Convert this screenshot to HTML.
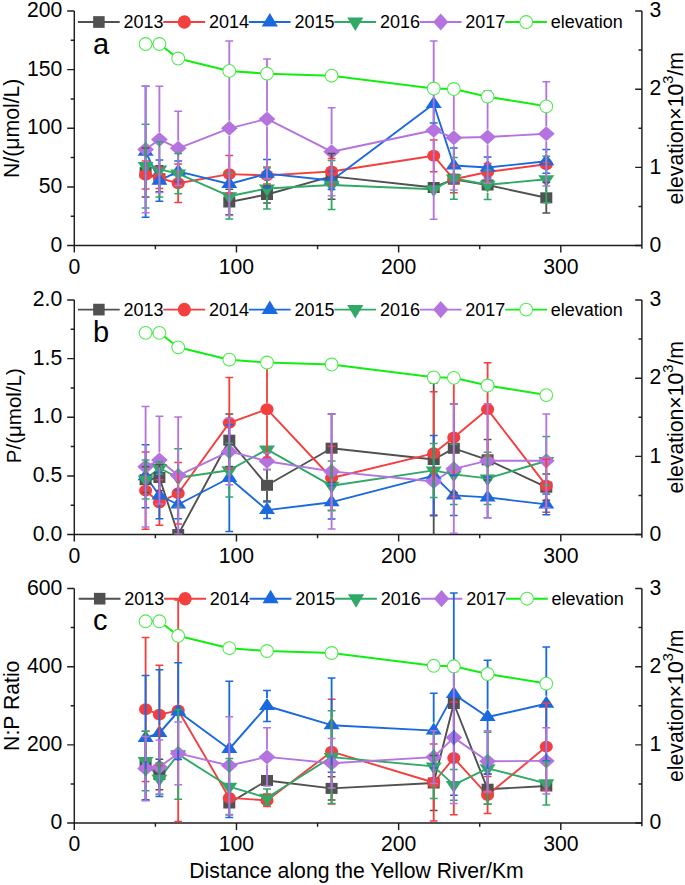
<!DOCTYPE html>
<html><head><meta charset="utf-8"><title>chart</title><style>html,body{margin:0;padding:0;background:#fff;}svg{display:block;}</style></head><body>
<svg width="685" height="885" viewBox="0 0 685 885" font-family='"Liberation Sans", sans-serif' fill="#000">
<rect width="685" height="885" fill="#fff"/>
<clipPath id="c0"><rect x="74.3" y="7" width="567.6" height="238.55"/></clipPath>
<line x1="77.9" y1="22" x2="119.7" y2="22" stroke="#515151" stroke-width="1.9"/>
<rect x="93.15" y="16.15" width="11.5" height="11.7" fill="#515151"/>
<text x="123.5" y="28" font-size="18" text-anchor="start">2013</text>
<line x1="163.36" y1="22" x2="205.16" y2="22" stroke="#f43f3f" stroke-width="1.9"/>
<ellipse cx="184.36" cy="22" rx="6.55" ry="6.8" fill="#f43f3f"/>
<text x="208.96" y="28" font-size="18" text-anchor="start">2014</text>
<line x1="248.82" y1="22" x2="290.62" y2="22" stroke="#1b69de" stroke-width="1.9"/>
<path d="M269.82 13L277.92 26.5L261.72 26.5Z" fill="#1b69de"/>
<text x="294.42" y="28" font-size="18" text-anchor="start">2015</text>
<line x1="334.28" y1="22" x2="376.08" y2="22" stroke="#30a967" stroke-width="1.9"/>
<path d="M355.28 31L363.38 17.5L347.18 17.5Z" fill="#30a967"/>
<text x="379.88" y="28" font-size="18" text-anchor="start">2016</text>
<line x1="419.74" y1="22" x2="461.54" y2="22" stroke="#b473de" stroke-width="1.9"/>
<path d="M440.74 13.4L448.34 22L440.74 30.6L433.14 22Z" fill="#b473de"/>
<text x="465.34" y="28" font-size="18" text-anchor="start">2017</text>
<line x1="505.2" y1="22" x2="547" y2="22" stroke="#12ee12" stroke-width="1.9"/>
<circle cx="526.2" cy="22" r="6.4" fill="#fff" stroke="#4fea4f" stroke-width="1.05"/>
<text x="550.8" y="28" font-size="18" text-anchor="start">elevation</text>
<path d="M74.3 11V245.55H641.9M641.9 11V248.75" fill="none" stroke="#1e1e1e" stroke-width="1.45"/>
<path d="M67.2 245.55H74.3M67.2 186.91H74.3M67.2 128.28H74.3M67.2 69.64H74.3M67.2 11H74.3M70.7 216.23H74.3M70.7 157.59H74.3M70.7 98.96H74.3M70.7 40.32H74.3M635.2 245.55H641.9M635.2 167.37H641.9M635.2 89.18H641.9M635.2 11H641.9M638.5 206.46H641.9M638.5 128.28H641.9M638.5 50.09H641.9M74.3 245.55V252.55M236.47 245.55V252.55M398.64 245.55V252.55M560.81 245.55V252.55M155.39 245.55V249.15M317.56 245.55V249.15M479.73 245.55V249.15" fill="none" stroke="#1e1e1e" stroke-width="1.45"/>
<text x="62.3" y="251.75" font-size="21.2" text-anchor="end">0</text>
<text x="62.3" y="193.11" font-size="21.2" text-anchor="end">50</text>
<text x="62.3" y="134.47" font-size="21.2" text-anchor="end">100</text>
<text x="62.3" y="75.84" font-size="21.2" text-anchor="end">150</text>
<text x="62.3" y="17.2" font-size="21.2" text-anchor="end">200</text>
<text x="649.6" y="251.75" font-size="21.2" text-anchor="start">0</text>
<text x="649.6" y="173.57" font-size="21.2" text-anchor="start">1</text>
<text x="649.6" y="95.38" font-size="21.2" text-anchor="start">2</text>
<text x="649.6" y="17.2" font-size="21.2" text-anchor="start">3</text>
<text x="74.3" y="273.75" font-size="21.2" text-anchor="middle">0</text>
<text x="236.47" y="273.75" font-size="21.2" text-anchor="middle">100</text>
<text x="398.64" y="273.75" font-size="21.2" text-anchor="middle">200</text>
<text x="560.81" y="273.75" font-size="21.2" text-anchor="middle">300</text>
<text transform="translate(18.8 128.28) rotate(-90)" font-size="21.2" text-anchor="middle">N/(μmol/L)</text>
<text transform="translate(682.9 128.28) rotate(-90)" font-size="21.2" text-anchor="middle">elevation×10<tspan font-size="14.5" dy="-10">3</tspan><tspan dy="10">/m</tspan></text>
<text x="93" y="53.6" font-size="29" text-anchor="start">a</text>
<g clip-path="url(#c0)">
<path d="M145.6 172.6L159.4 178.7" fill="none" stroke="#515151" stroke-width="1.9" stroke-linejoin="round"/>
<path d="M229.3 202L267 194.5L331.6 176.4L433.7 187.5L453.8 179.2L487.6 185L546.3 197.8" fill="none" stroke="#515151" stroke-width="1.9" stroke-linejoin="round"/>
<path d="M145.6 174.9L159.4 178L178.2 183.3L229.3 174.1L267 175.4L331.6 171.5L433.7 155.8L453.8 179.3L487.6 172L546.3 164.2" fill="none" stroke="#f43f3f" stroke-width="1.9" stroke-linejoin="round"/>
<path d="M145.6 151.7L159.4 180.65L178.2 171.4L229.3 184L267 173.65L331.6 180.5L433.7 104L453.8 165.5L487.6 167.5L546.3 161.3" fill="none" stroke="#1b69de" stroke-width="1.9" stroke-linejoin="round"/>
<path d="M145.6 166.1L159.4 169.4L178.2 173.6L229.3 196.2L267 188.5L331.6 185L433.7 189.2L453.8 178.4L487.6 184.8L546.3 179.3" fill="none" stroke="#30a967" stroke-width="1.9" stroke-linejoin="round"/>
<path d="M145.6 149.5L159.4 139.45L178.2 148.35L229.3 128.3L267 118.9L331.6 151.7L433.7 130.2L453.8 137.8L487.6 137L546.3 133.8" fill="none" stroke="#b473de" stroke-width="1.9" stroke-linejoin="round"/>
<rect x="139.6" y="167.1" width="12" height="11" fill="#515151"/>
<rect x="153.4" y="173.2" width="12" height="11" fill="#515151"/>
<rect x="223.3" y="196.5" width="12" height="11" fill="#515151"/>
<rect x="261" y="189" width="12" height="11" fill="#515151"/>
<rect x="325.6" y="170.9" width="12" height="11" fill="#515151"/>
<rect x="427.7" y="182" width="12" height="11" fill="#515151"/>
<rect x="447.8" y="173.7" width="12" height="11" fill="#515151"/>
<rect x="481.6" y="179.5" width="12" height="11" fill="#515151"/>
<rect x="540.3" y="192.3" width="12" height="11" fill="#515151"/>
<ellipse cx="145.6" cy="174.9" rx="6.55" ry="5.95" fill="#f43f3f"/>
<ellipse cx="159.4" cy="178" rx="6.55" ry="5.95" fill="#f43f3f"/>
<ellipse cx="178.2" cy="183.3" rx="6.55" ry="5.95" fill="#f43f3f"/>
<ellipse cx="229.3" cy="174.1" rx="6.55" ry="5.95" fill="#f43f3f"/>
<ellipse cx="267" cy="175.4" rx="6.55" ry="5.95" fill="#f43f3f"/>
<ellipse cx="331.6" cy="171.5" rx="6.55" ry="5.95" fill="#f43f3f"/>
<ellipse cx="433.7" cy="155.8" rx="6.55" ry="5.95" fill="#f43f3f"/>
<ellipse cx="453.8" cy="179.3" rx="6.55" ry="5.95" fill="#f43f3f"/>
<ellipse cx="487.6" cy="172" rx="6.55" ry="5.95" fill="#f43f3f"/>
<ellipse cx="546.3" cy="164.2" rx="6.55" ry="5.95" fill="#f43f3f"/>
<path d="M145.6 143.7L153.6 155.7L137.6 155.7Z" fill="#1b69de"/>
<path d="M159.4 172.65L167.4 184.65L151.4 184.65Z" fill="#1b69de"/>
<path d="M178.2 163.4L186.2 175.4L170.2 175.4Z" fill="#1b69de"/>
<path d="M229.3 176L237.3 188L221.3 188Z" fill="#1b69de"/>
<path d="M267 165.65L275 177.65L259 177.65Z" fill="#1b69de"/>
<path d="M331.6 172.5L339.6 184.5L323.6 184.5Z" fill="#1b69de"/>
<path d="M433.7 96L441.7 108L425.7 108Z" fill="#1b69de"/>
<path d="M453.8 157.5L461.8 169.5L445.8 169.5Z" fill="#1b69de"/>
<path d="M487.6 159.5L495.6 171.5L479.6 171.5Z" fill="#1b69de"/>
<path d="M546.3 153.3L554.3 165.3L538.3 165.3Z" fill="#1b69de"/>
<path d="M145.6 174.1L153.6 162.1L137.6 162.1Z" fill="#30a967"/>
<path d="M159.4 177.4L167.4 165.4L151.4 165.4Z" fill="#30a967"/>
<path d="M178.2 181.6L186.2 169.6L170.2 169.6Z" fill="#30a967"/>
<path d="M229.3 204.2L237.3 192.2L221.3 192.2Z" fill="#30a967"/>
<path d="M267 196.5L275 184.5L259 184.5Z" fill="#30a967"/>
<path d="M331.6 193L339.6 181L323.6 181Z" fill="#30a967"/>
<path d="M433.7 197.2L441.7 185.2L425.7 185.2Z" fill="#30a967"/>
<path d="M453.8 186.4L461.8 174.4L445.8 174.4Z" fill="#30a967"/>
<path d="M487.6 192.8L495.6 180.8L479.6 180.8Z" fill="#30a967"/>
<path d="M546.3 187.3L554.3 175.3L538.3 175.3Z" fill="#30a967"/>
<path d="M145.6 142L154 149.5L145.6 157L137.2 149.5Z" fill="#b473de"/>
<path d="M159.4 131.95L167.8 139.45L159.4 146.95L151 139.45Z" fill="#b473de"/>
<path d="M178.2 140.85L186.6 148.35L178.2 155.85L169.8 148.35Z" fill="#b473de"/>
<path d="M229.3 120.8L237.7 128.3L229.3 135.8L220.9 128.3Z" fill="#b473de"/>
<path d="M267 111.4L275.4 118.9L267 126.4L258.6 118.9Z" fill="#b473de"/>
<path d="M331.6 144.2L340 151.7L331.6 159.2L323.2 151.7Z" fill="#b473de"/>
<path d="M433.7 122.7L442.1 130.2L433.7 137.7L425.3 130.2Z" fill="#b473de"/>
<path d="M453.8 130.3L462.2 137.8L453.8 145.3L445.4 137.8Z" fill="#b473de"/>
<path d="M487.6 129.5L496 137L487.6 144.5L479.2 137Z" fill="#b473de"/>
<path d="M546.3 126.3L554.7 133.8L546.3 141.3L537.9 133.8Z" fill="#b473de"/>
<path d="M145.6 167.1V148.1M145.6 178.1V197.1M159.4 173.2V165.7M159.4 184.2V191.7M229.3 196.5V189.3M229.3 207.5V214.7M267 189V185.9M267 200V203.1M331.6 170.9V153.5M331.6 181.9V199.3M546.3 192.3V182.5M546.3 203.3V213.1" fill="none" stroke="#515151" stroke-width="1.85"/>
<path d="M141.7 148.1H149.5M141.7 197.1H149.5M155.5 165.7H163.3M155.5 191.7H163.3M225.4 189.3H233.2M225.4 214.7H233.2M263.1 185.9H270.9M263.1 203.1H270.9M327.7 153.5H335.5M327.7 199.3H335.5M542.4 182.5H550.2M542.4 213.1H550.2" fill="none" stroke="#515151" stroke-width="1.5"/>
<path d="M145.6 168.95V160.9M145.6 180.85V189M159.4 172.05V167.4M159.4 183.95V188.6M178.2 177.35V164.1M178.2 189.25V202.5M229.3 168.15V155.4M229.3 180.05V192.9M267 169.45V166.9M267 181.35V184M331.6 165.55V158.6M331.6 177.45V184.4M433.7 149.85V139.9M433.7 161.75V171.8M453.8 173.35V165.7M453.8 185.25V192.8M487.6 166.05V163.4M487.6 177.95V180" fill="none" stroke="#f43f3f" stroke-width="1.85"/>
<path d="M141.7 160.9H149.5M141.7 189H149.5M155.5 167.4H163.3M155.5 188.6H163.3M174.3 164.1H182.1M174.3 202.5H182.1M225.4 155.4H233.2M225.4 192.9H233.2M263.1 166.9H270.9M263.1 184H270.9M327.7 158.6H335.5M327.7 184.4H335.5M429.8 139.9H437.6M429.8 171.8H437.6M449.9 165.7H457.7M449.9 192.8H457.7M483.7 163.4H491.5M483.7 180H491.5M542.4 162.4H550.2M542.4 166H550.2" fill="none" stroke="#f43f3f" stroke-width="1.5"/>
<path d="M145.6 143.7V86.2M145.6 155.7V217.2M159.4 172.65V160.1M159.4 184.65V201.2M178.2 163.4V161M178.2 175.4V181.8M267 165.65V159.5M267 177.65V187.8M331.6 172.5V171.5M331.6 184.5V189.5M433.7 96V85.1M433.7 108V122.9M453.8 157.5V148M453.8 169.5V183M487.6 159.5V157.1M487.6 171.5V177.9M546.3 153.3V149.4M546.3 165.3V173.2" fill="none" stroke="#1b69de" stroke-width="1.85"/>
<path d="M141.7 86.2H149.5M141.7 217.2H149.5M155.5 160.1H163.3M155.5 201.2H163.3M174.3 161H182.1M174.3 181.8H182.1M263.1 159.5H270.9M263.1 187.8H270.9M327.7 171.5H335.5M327.7 189.5H335.5M429.8 85.1H437.6M429.8 122.9H437.6M449.9 148H457.7M449.9 183H457.7M483.7 157.1H491.5M483.7 177.9H491.5M542.4 149.4H550.2M542.4 173.2H550.2" fill="none" stroke="#1b69de" stroke-width="1.5"/>
<path d="M145.6 162.1V124.2M145.6 174.1V208M159.4 165.4V141.7M159.4 177.4V197.1M178.2 169.6V153.5M178.2 181.6V193.7M229.3 192.2V173.3M229.3 204.2V219.1M267 184.5V168M267 196.5V208.9M331.6 181V160.5M331.6 193V209.5M453.8 174.4V157.5M453.8 186.4V199.2M487.6 180.8V170.1M487.6 192.8V199.6M546.3 175.3V156.3M546.3 187.3V202.7" fill="none" stroke="#30a967" stroke-width="1.85"/>
<path d="M141.7 124.2H149.5M141.7 208H149.5M155.5 141.7H163.3M155.5 197.1H163.3M174.3 153.5H182.1M174.3 193.7H182.1M225.4 173.3H233.2M225.4 219.1H233.2M263.1 168H270.9M263.1 208.9H270.9M327.7 160.5H335.5M327.7 209.5H335.5M449.9 157.5H457.7M449.9 199.2H457.7M483.7 170.1H491.5M483.7 199.6H491.5M542.4 156.3H550.2M542.4 202.7H550.2" fill="none" stroke="#30a967" stroke-width="1.5"/>
<path d="M145.6 142V86.2M145.6 157V212.7M159.4 131.95V86.3M159.4 146.95V192.6M178.2 140.85V111.2M178.2 155.85V185.5M229.3 120.8V41.1M229.3 135.8V215.5M267 111.4V59M267 126.4V178.8M331.6 144.2V107.7M331.6 159.2V195.7M433.7 122.7V41.1M433.7 137.7V219.3M453.8 130.3V85.5M453.8 145.3V190.1M487.6 129.5V90.8M487.6 144.5V183.2M546.3 126.3V81.7M546.3 141.3V185.9" fill="none" stroke="#b473de" stroke-width="1.85"/>
<path d="M141.7 86.2H149.5M141.7 212.7H149.5M155.5 86.3H163.3M155.5 192.6H163.3M174.3 111.2H182.1M174.3 185.5H182.1M225.4 41.1H233.2M225.4 215.5H233.2M263.1 59H270.9M263.1 178.8H270.9M327.7 107.7H335.5M327.7 195.7H335.5M429.8 41.1H437.6M429.8 219.3H437.6M449.9 85.5H457.7M449.9 190.1H457.7M483.7 90.8H491.5M483.7 183.2H491.5M542.4 81.7H550.2M542.4 185.9H550.2" fill="none" stroke="#b473de" stroke-width="1.5"/>
</g>
<path d="M145.6 44L159.4 44L178.2 58.5L229.3 70.9L267 73.7L331.6 75.7L433.7 88.5L453.8 89L487.6 96.7L546.3 106.3" fill="none" stroke="#12ee12" stroke-width="2.05" stroke-linejoin="round"/>
<circle cx="145.6" cy="44" r="6.4" fill="#fff" stroke="#4fea4f" stroke-width="1.05"/>
<circle cx="159.4" cy="44" r="6.4" fill="#fff" stroke="#4fea4f" stroke-width="1.05"/>
<circle cx="178.2" cy="58.5" r="6.4" fill="#fff" stroke="#4fea4f" stroke-width="1.05"/>
<circle cx="229.3" cy="70.9" r="6.4" fill="#fff" stroke="#4fea4f" stroke-width="1.05"/>
<circle cx="267" cy="73.7" r="6.4" fill="#fff" stroke="#4fea4f" stroke-width="1.05"/>
<circle cx="331.6" cy="75.7" r="6.4" fill="#fff" stroke="#4fea4f" stroke-width="1.05"/>
<circle cx="433.7" cy="88.5" r="6.4" fill="#fff" stroke="#4fea4f" stroke-width="1.05"/>
<circle cx="453.8" cy="89" r="6.4" fill="#fff" stroke="#4fea4f" stroke-width="1.05"/>
<circle cx="487.6" cy="96.7" r="6.4" fill="#fff" stroke="#4fea4f" stroke-width="1.05"/>
<circle cx="546.3" cy="106.3" r="6.4" fill="#fff" stroke="#4fea4f" stroke-width="1.05"/>
<clipPath id="c1"><rect x="74.3" y="296" width="567.6" height="238.55"/></clipPath>
<line x1="77.9" y1="309.6" x2="119.7" y2="309.6" stroke="#515151" stroke-width="1.9"/>
<rect x="93.15" y="303.75" width="11.5" height="11.7" fill="#515151"/>
<text x="123.5" y="315.6" font-size="18" text-anchor="start">2013</text>
<line x1="163.36" y1="309.6" x2="205.16" y2="309.6" stroke="#f43f3f" stroke-width="1.9"/>
<ellipse cx="184.36" cy="309.6" rx="6.55" ry="6.8" fill="#f43f3f"/>
<text x="208.96" y="315.6" font-size="18" text-anchor="start">2014</text>
<line x1="248.82" y1="309.6" x2="290.62" y2="309.6" stroke="#1b69de" stroke-width="1.9"/>
<path d="M269.82 300.6L277.92 314.1L261.72 314.1Z" fill="#1b69de"/>
<text x="294.42" y="315.6" font-size="18" text-anchor="start">2015</text>
<line x1="334.28" y1="309.6" x2="376.08" y2="309.6" stroke="#30a967" stroke-width="1.9"/>
<path d="M355.28 318.6L363.38 305.1L347.18 305.1Z" fill="#30a967"/>
<text x="379.88" y="315.6" font-size="18" text-anchor="start">2016</text>
<line x1="419.74" y1="309.6" x2="461.54" y2="309.6" stroke="#b473de" stroke-width="1.9"/>
<path d="M440.74 301L448.34 309.6L440.74 318.2L433.14 309.6Z" fill="#b473de"/>
<text x="465.34" y="315.6" font-size="18" text-anchor="start">2017</text>
<line x1="505.2" y1="309.6" x2="547" y2="309.6" stroke="#12ee12" stroke-width="1.9"/>
<circle cx="526.2" cy="309.6" r="6.4" fill="#fff" stroke="#4fea4f" stroke-width="1.05"/>
<text x="550.8" y="315.6" font-size="18" text-anchor="start">elevation</text>
<path d="M74.3 300V534.55H641.9M641.9 300V537.75" fill="none" stroke="#1e1e1e" stroke-width="1.45"/>
<path d="M67.2 534.55H74.3M67.2 475.91H74.3M67.2 417.27H74.3M67.2 358.64H74.3M67.2 300H74.3M70.7 505.23H74.3M70.7 446.59H74.3M70.7 387.96H74.3M70.7 329.32H74.3M635.2 534.55H641.9M635.2 456.37H641.9M635.2 378.18H641.9M635.2 300H641.9M638.5 495.46H641.9M638.5 417.27H641.9M638.5 339.09H641.9M74.3 534.55V541.55M236.47 534.55V541.55M398.64 534.55V541.55M560.81 534.55V541.55M155.39 534.55V538.15M317.56 534.55V538.15M479.73 534.55V538.15" fill="none" stroke="#1e1e1e" stroke-width="1.45"/>
<text x="62.3" y="540.75" font-size="21.2" text-anchor="end">0.0</text>
<text x="62.3" y="482.11" font-size="21.2" text-anchor="end">0.5</text>
<text x="62.3" y="423.47" font-size="21.2" text-anchor="end">1.0</text>
<text x="62.3" y="364.84" font-size="21.2" text-anchor="end">1.5</text>
<text x="62.3" y="306.2" font-size="21.2" text-anchor="end">2.0</text>
<text x="649.6" y="540.75" font-size="21.2" text-anchor="start">0</text>
<text x="649.6" y="462.57" font-size="21.2" text-anchor="start">1</text>
<text x="649.6" y="384.38" font-size="21.2" text-anchor="start">2</text>
<text x="649.6" y="306.2" font-size="21.2" text-anchor="start">3</text>
<text x="74.3" y="562.75" font-size="21.2" text-anchor="middle">0</text>
<text x="236.47" y="562.75" font-size="21.2" text-anchor="middle">100</text>
<text x="398.64" y="562.75" font-size="21.2" text-anchor="middle">200</text>
<text x="560.81" y="562.75" font-size="21.2" text-anchor="middle">300</text>
<text transform="translate(21 415.67) rotate(-90)" font-size="20.5" text-anchor="middle">P/(μmol/L)</text>
<text transform="translate(682.9 417.27) rotate(-90)" font-size="21.2" text-anchor="middle">elevation×10<tspan font-size="14.5" dy="-10">3</tspan><tspan dy="10">/m</tspan></text>
<text x="93" y="341.7" font-size="29" text-anchor="start">b</text>
<g clip-path="url(#c1)">
<path d="M145.6 479.7L159.4 477.5L178.2 534.55L229.3 440.2L267 485.3L331.6 448.2L433.7 459.5L453.8 448.3L487.6 459.8L546.3 487.2" fill="none" stroke="#515151" stroke-width="1.9" stroke-linejoin="round"/>
<path d="M145.6 490.6L159.4 502.5L178.2 493.2L229.3 422.9L267 409.2L331.6 478L433.7 453.3L453.8 437.5L487.6 409.3L546.3 485.7" fill="none" stroke="#f43f3f" stroke-width="1.9" stroke-linejoin="round"/>
<path d="M145.6 476.3L159.4 495.5L178.2 504.5L229.3 478L267 510.1L331.6 502.2L433.7 475.6L453.8 495.4L487.6 497.4L546.3 504.4" fill="none" stroke="#1b69de" stroke-width="1.9" stroke-linejoin="round"/>
<path d="M145.6 479.5L159.4 468L178.2 477.75L229.3 470.2L267 449.4L331.6 485.8L433.7 470.4L453.8 474.4L487.6 478.4L546.3 461" fill="none" stroke="#30a967" stroke-width="1.9" stroke-linejoin="round"/>
<path d="M145.6 466.8L159.4 460.1L178.2 475.6L229.3 451.4L267 461.2L331.6 471.4L433.7 481.5L453.8 468.8L487.6 460.7L546.3 460.7" fill="none" stroke="#b473de" stroke-width="1.9" stroke-linejoin="round"/>
<rect x="139.6" y="474.2" width="12" height="11" fill="#515151"/>
<rect x="153.4" y="472" width="12" height="11" fill="#515151"/>
<rect x="172.2" y="529.05" width="12" height="11" fill="#515151"/>
<rect x="223.3" y="434.7" width="12" height="11" fill="#515151"/>
<rect x="261" y="479.8" width="12" height="11" fill="#515151"/>
<rect x="325.6" y="442.7" width="12" height="11" fill="#515151"/>
<rect x="427.7" y="454" width="12" height="11" fill="#515151"/>
<rect x="447.8" y="442.8" width="12" height="11" fill="#515151"/>
<rect x="481.6" y="454.3" width="12" height="11" fill="#515151"/>
<rect x="540.3" y="481.7" width="12" height="11" fill="#515151"/>
<ellipse cx="145.6" cy="490.6" rx="6.55" ry="5.95" fill="#f43f3f"/>
<ellipse cx="159.4" cy="502.5" rx="6.55" ry="5.95" fill="#f43f3f"/>
<ellipse cx="178.2" cy="493.2" rx="6.55" ry="5.95" fill="#f43f3f"/>
<ellipse cx="229.3" cy="422.9" rx="6.55" ry="5.95" fill="#f43f3f"/>
<ellipse cx="267" cy="409.2" rx="6.55" ry="5.95" fill="#f43f3f"/>
<ellipse cx="331.6" cy="478" rx="6.55" ry="5.95" fill="#f43f3f"/>
<ellipse cx="433.7" cy="453.3" rx="6.55" ry="5.95" fill="#f43f3f"/>
<ellipse cx="453.8" cy="437.5" rx="6.55" ry="5.95" fill="#f43f3f"/>
<ellipse cx="487.6" cy="409.3" rx="6.55" ry="5.95" fill="#f43f3f"/>
<ellipse cx="546.3" cy="485.7" rx="6.55" ry="5.95" fill="#f43f3f"/>
<path d="M145.6 468.3L153.6 480.3L137.6 480.3Z" fill="#1b69de"/>
<path d="M159.4 487.5L167.4 499.5L151.4 499.5Z" fill="#1b69de"/>
<path d="M178.2 496.5L186.2 508.5L170.2 508.5Z" fill="#1b69de"/>
<path d="M229.3 470L237.3 482L221.3 482Z" fill="#1b69de"/>
<path d="M267 502.1L275 514.1L259 514.1Z" fill="#1b69de"/>
<path d="M331.6 494.2L339.6 506.2L323.6 506.2Z" fill="#1b69de"/>
<path d="M433.7 467.6L441.7 479.6L425.7 479.6Z" fill="#1b69de"/>
<path d="M453.8 487.4L461.8 499.4L445.8 499.4Z" fill="#1b69de"/>
<path d="M487.6 489.4L495.6 501.4L479.6 501.4Z" fill="#1b69de"/>
<path d="M546.3 496.4L554.3 508.4L538.3 508.4Z" fill="#1b69de"/>
<path d="M145.6 487.5L153.6 475.5L137.6 475.5Z" fill="#30a967"/>
<path d="M159.4 476L167.4 464L151.4 464Z" fill="#30a967"/>
<path d="M178.2 485.75L186.2 473.75L170.2 473.75Z" fill="#30a967"/>
<path d="M229.3 478.2L237.3 466.2L221.3 466.2Z" fill="#30a967"/>
<path d="M267 457.4L275 445.4L259 445.4Z" fill="#30a967"/>
<path d="M331.6 493.8L339.6 481.8L323.6 481.8Z" fill="#30a967"/>
<path d="M433.7 478.4L441.7 466.4L425.7 466.4Z" fill="#30a967"/>
<path d="M453.8 482.4L461.8 470.4L445.8 470.4Z" fill="#30a967"/>
<path d="M487.6 486.4L495.6 474.4L479.6 474.4Z" fill="#30a967"/>
<path d="M546.3 469L554.3 457L538.3 457Z" fill="#30a967"/>
<path d="M145.6 459.3L154 466.8L145.6 474.3L137.2 466.8Z" fill="#b473de"/>
<path d="M159.4 452.6L167.8 460.1L159.4 467.6L151 460.1Z" fill="#b473de"/>
<path d="M178.2 468.1L186.6 475.6L178.2 483.1L169.8 475.6Z" fill="#b473de"/>
<path d="M229.3 443.9L237.7 451.4L229.3 458.9L220.9 451.4Z" fill="#b473de"/>
<path d="M267 453.7L275.4 461.2L267 468.7L258.6 461.2Z" fill="#b473de"/>
<path d="M331.6 463.9L340 471.4L331.6 478.9L323.2 471.4Z" fill="#b473de"/>
<path d="M433.7 474L442.1 481.5L433.7 489L425.3 481.5Z" fill="#b473de"/>
<path d="M453.8 461.3L462.2 468.8L453.8 476.3L445.4 468.8Z" fill="#b473de"/>
<path d="M487.6 453.2L496 460.7L487.6 468.2L479.2 460.7Z" fill="#b473de"/>
<path d="M546.3 453.2L554.7 460.7L546.3 468.2L537.9 460.7Z" fill="#b473de"/>
<path d="M145.6 474.2V466.8M145.6 485.2V492.6M159.4 472V464.5M159.4 483V490.5M229.3 434.7V413.9M229.3 445.7V466.5M267 479.8V469.5M267 490.8V501M331.6 442.7V413.9M331.6 453.7V482.5M433.7 454V383M433.7 465V536M453.8 442.8V404.1M453.8 453.8V492.5M487.6 454.3V439.5M487.6 465.3V480.1M546.3 481.7V474.1M546.3 492.7V500.3" fill="none" stroke="#515151" stroke-width="1.85"/>
<path d="M141.7 466.8H149.5M141.7 492.6H149.5M155.5 464.5H163.3M155.5 490.5H163.3M225.4 413.9H233.2M225.4 466.5H233.2M263.1 469.5H270.9M263.1 501H270.9M327.7 413.9H335.5M327.7 482.5H335.5M429.8 383H437.6M429.8 536H437.6M449.9 404.1H457.7M449.9 492.5H457.7M483.7 439.5H491.5M483.7 480.1H491.5M542.4 474.1H550.2M542.4 500.3H550.2" fill="none" stroke="#515151" stroke-width="1.5"/>
<path d="M145.6 484.65V452M145.6 496.55V529.2M159.4 496.55V479.7M159.4 508.45V525.2M178.2 487.25V462.4M178.2 499.15V523.9M229.3 416.95V377.5M229.3 428.85V468.4M267 403.25V360.8M267 415.15V457.6M331.6 472.05V446.2M331.6 483.95V510.3M433.7 447.35V391.7M433.7 459.25V515.1M453.8 431.55V378.5M453.8 443.45V496.5M487.6 403.35V362.7M487.6 415.25V455.9M546.3 479.75V459.2M546.3 491.65V512.3" fill="none" stroke="#f43f3f" stroke-width="1.85"/>
<path d="M141.7 452H149.5M141.7 529.2H149.5M155.5 479.7H163.3M155.5 525.2H163.3M174.3 462.4H182.1M174.3 523.9H182.1M225.4 377.5H233.2M225.4 468.4H233.2M263.1 360.8H270.9M263.1 457.6H270.9M327.7 446.2H335.5M327.7 510.3H335.5M429.8 391.7H437.6M429.8 515.1H437.6M449.9 378.5H457.7M449.9 496.5H457.7M483.7 362.7H491.5M483.7 455.9H491.5M542.4 459.2H550.2M542.4 512.3H550.2" fill="none" stroke="#f43f3f" stroke-width="1.5"/>
<path d="M145.6 468.3V444.8M145.6 480.3V507.8M159.4 487.5V472.2M159.4 499.5V518.8M178.2 496.5V490.3M178.2 508.5V518.7M229.3 470V424.7M229.3 482V531.4M267 502.1V501.9M267 514.1V518.4M331.6 494.2V485.4M331.6 506.2V518.9M433.7 467.6V435.6M433.7 479.6V515.7M453.8 487.4V475.3M453.8 499.4V515.5M487.6 489.4V477.1M487.6 501.4V517.7M546.3 496.4V494M546.3 508.4V514.8" fill="none" stroke="#1b69de" stroke-width="1.85"/>
<path d="M141.7 444.8H149.5M141.7 507.8H149.5M155.5 472.2H163.3M155.5 518.8H163.3M174.3 490.3H182.1M174.3 518.7H182.1M225.4 424.7H233.2M225.4 531.4H233.2M263.1 501.9H270.9M263.1 518.4H270.9M327.7 485.4H335.5M327.7 518.9H335.5M429.8 435.6H437.6M429.8 515.7H437.6M449.9 475.3H457.7M449.9 515.5H457.7M483.7 477.1H491.5M483.7 517.7H491.5M542.4 494H550.2M542.4 514.8H550.2" fill="none" stroke="#1b69de" stroke-width="1.5"/>
<path d="M145.6 475.5V459.9M145.6 487.5V499.1M159.4 464V461.8M178.2 473.75V448.8M178.2 485.75V506.7M229.3 466.2V443.3M229.3 478.2V497.1M331.6 481.8V460.9M331.6 493.8V510.7M433.7 466.4V443.4M433.7 478.4V497.5M453.8 470.4V444.3M453.8 482.4V504.5M487.6 474.4V452.2M487.6 486.4V504.6M546.3 457V436.5M546.3 469V485.6" fill="none" stroke="#30a967" stroke-width="1.85"/>
<path d="M141.7 459.9H149.5M141.7 499.1H149.5M155.5 461.8H163.3M155.5 474.2H163.3M174.3 448.8H182.1M174.3 506.7H182.1M225.4 443.3H233.2M225.4 497.1H233.2M327.7 460.9H335.5M327.7 510.7H335.5M429.8 443.4H437.6M429.8 497.5H437.6M449.9 444.3H457.7M449.9 504.5H457.7M483.7 452.2H491.5M483.7 504.6H491.5M542.4 436.5H550.2M542.4 485.6H550.2" fill="none" stroke="#30a967" stroke-width="1.5"/>
<path d="M145.6 459.3V406.5M145.6 474.3V527.1M159.4 452.6V416.3M159.4 467.6V503.9M178.2 468.1V417M178.2 483.1V534.1M229.3 443.9V418.2M229.3 458.9V484.7M267 453.7V452.9M267 468.7V469.5M331.6 463.9V413.9M331.6 478.9V528.9M453.8 461.3V404.1M453.8 476.3V533.3M487.6 453.2V403.7M487.6 468.2V517.7M546.3 453.2V414M546.3 468.2V507.4" fill="none" stroke="#b473de" stroke-width="1.85"/>
<path d="M141.7 406.5H149.5M141.7 527.1H149.5M155.5 416.3H163.3M155.5 503.9H163.3M174.3 417H182.1M174.3 534.1H182.1M225.4 418.2H233.2M225.4 484.7H233.2M263.1 452.9H270.9M263.1 469.5H270.9M327.7 413.9H335.5M327.7 528.9H335.5M449.9 404.1H457.7M449.9 533.3H457.7M483.7 403.7H491.5M483.7 517.7H491.5M542.4 414H550.2M542.4 507.4H550.2" fill="none" stroke="#b473de" stroke-width="1.5"/>
</g>
<path d="M145.6 332.8L159.4 332.8L178.2 347.3L229.3 359.7L267 362.5L331.6 364.5L433.7 377.3L453.8 377.8L487.6 385.5L546.3 395.1" fill="none" stroke="#12ee12" stroke-width="2.05" stroke-linejoin="round"/>
<circle cx="145.6" cy="332.8" r="6.4" fill="#fff" stroke="#4fea4f" stroke-width="1.05"/>
<circle cx="159.4" cy="332.8" r="6.4" fill="#fff" stroke="#4fea4f" stroke-width="1.05"/>
<circle cx="178.2" cy="347.3" r="6.4" fill="#fff" stroke="#4fea4f" stroke-width="1.05"/>
<circle cx="229.3" cy="359.7" r="6.4" fill="#fff" stroke="#4fea4f" stroke-width="1.05"/>
<circle cx="267" cy="362.5" r="6.4" fill="#fff" stroke="#4fea4f" stroke-width="1.05"/>
<circle cx="331.6" cy="364.5" r="6.4" fill="#fff" stroke="#4fea4f" stroke-width="1.05"/>
<circle cx="433.7" cy="377.3" r="6.4" fill="#fff" stroke="#4fea4f" stroke-width="1.05"/>
<circle cx="453.8" cy="377.8" r="6.4" fill="#fff" stroke="#4fea4f" stroke-width="1.05"/>
<circle cx="487.6" cy="385.5" r="6.4" fill="#fff" stroke="#4fea4f" stroke-width="1.05"/>
<circle cx="546.3" cy="395.1" r="6.4" fill="#fff" stroke="#4fea4f" stroke-width="1.05"/>
<clipPath id="c2"><rect x="74.3" y="584.5" width="567.6" height="238.55"/></clipPath>
<line x1="78.7" y1="598.7" x2="120.5" y2="598.7" stroke="#515151" stroke-width="1.9"/>
<rect x="93.95" y="592.85" width="11.5" height="11.7" fill="#515151"/>
<text x="124.3" y="604.7" font-size="18" text-anchor="start">2013</text>
<line x1="164.16" y1="598.7" x2="205.96" y2="598.7" stroke="#f43f3f" stroke-width="1.9"/>
<ellipse cx="185.16" cy="598.7" rx="6.55" ry="6.8" fill="#f43f3f"/>
<text x="209.76" y="604.7" font-size="18" text-anchor="start">2014</text>
<line x1="249.62" y1="598.7" x2="291.42" y2="598.7" stroke="#1b69de" stroke-width="1.9"/>
<path d="M270.62 589.7L278.72 603.2L262.52 603.2Z" fill="#1b69de"/>
<text x="295.22" y="604.7" font-size="18" text-anchor="start">2015</text>
<line x1="335.08" y1="598.7" x2="376.88" y2="598.7" stroke="#30a967" stroke-width="1.9"/>
<path d="M356.08 607.7L364.18 594.2L347.98 594.2Z" fill="#30a967"/>
<text x="380.68" y="604.7" font-size="18" text-anchor="start">2016</text>
<line x1="420.54" y1="598.7" x2="462.34" y2="598.7" stroke="#b473de" stroke-width="1.9"/>
<path d="M441.54 590.1L449.14 598.7L441.54 607.3L433.94 598.7Z" fill="#b473de"/>
<text x="466.14" y="604.7" font-size="18" text-anchor="start">2017</text>
<line x1="506" y1="598.7" x2="547.8" y2="598.7" stroke="#12ee12" stroke-width="1.9"/>
<circle cx="527" cy="598.7" r="6.4" fill="#fff" stroke="#4fea4f" stroke-width="1.05"/>
<text x="551.6" y="604.7" font-size="18" text-anchor="start">elevation</text>
<path d="M74.3 588.5V823.05H641.9M641.9 588.5V826.25" fill="none" stroke="#1e1e1e" stroke-width="1.45"/>
<path d="M67.2 823.05H74.3M67.2 744.87H74.3M67.2 666.68H74.3M67.2 588.5H74.3M70.7 783.96H74.3M70.7 705.77H74.3M70.7 627.59H74.3M635.2 823.05H641.9M635.2 744.87H641.9M635.2 666.68H641.9M635.2 588.5H641.9M638.5 783.96H641.9M638.5 705.77H641.9M638.5 627.59H641.9M74.3 823.05V830.05M236.47 823.05V830.05M398.64 823.05V830.05M560.81 823.05V830.05M155.39 823.05V826.65M317.56 823.05V826.65M479.73 823.05V826.65" fill="none" stroke="#1e1e1e" stroke-width="1.45"/>
<text x="62.3" y="829.25" font-size="21.2" text-anchor="end">0</text>
<text x="62.3" y="751.07" font-size="21.2" text-anchor="end">200</text>
<text x="62.3" y="672.88" font-size="21.2" text-anchor="end">400</text>
<text x="62.3" y="594.7" font-size="21.2" text-anchor="end">600</text>
<text x="649.6" y="829.25" font-size="21.2" text-anchor="start">0</text>
<text x="649.6" y="751.07" font-size="21.2" text-anchor="start">1</text>
<text x="649.6" y="672.88" font-size="21.2" text-anchor="start">2</text>
<text x="649.6" y="594.7" font-size="21.2" text-anchor="start">3</text>
<text x="74.3" y="851.25" font-size="21.2" text-anchor="middle">0</text>
<text x="236.47" y="851.25" font-size="21.2" text-anchor="middle">100</text>
<text x="398.64" y="851.25" font-size="21.2" text-anchor="middle">200</text>
<text x="560.81" y="851.25" font-size="21.2" text-anchor="middle">300</text>
<text transform="translate(18.8 705.77) rotate(-90)" font-size="21.2" text-anchor="middle">N:P Ratio</text>
<text transform="translate(682.9 705.77) rotate(-90)" font-size="21.2" text-anchor="middle">elevation×10<tspan font-size="14.5" dy="-10">3</tspan><tspan dy="10">/m</tspan></text>
<text x="93" y="630.3" font-size="29" text-anchor="start">c</text>
<g clip-path="url(#c2)">
<path d="M145.6 765.5L159.4 774.6" fill="none" stroke="#515151" stroke-width="1.9" stroke-linejoin="round"/>
<path d="M229.3 803L267 780.5L331.6 788.4L433.7 783L453.8 703.5L487.6 789.2L546.3 786" fill="none" stroke="#515151" stroke-width="1.9" stroke-linejoin="round"/>
<path d="M145.6 709.2L159.4 714.6L178.2 710.5L229.3 797.9L267 800.4L331.6 751.7L433.7 782.5L453.8 758L487.6 795.1L546.3 746.6" fill="none" stroke="#f43f3f" stroke-width="1.9" stroke-linejoin="round"/>
<path d="M145.6 738L159.4 733L178.2 711.5L229.3 749L267 706L331.6 725.2L433.7 730.6L453.8 694.1L487.6 717L546.3 703.8" fill="none" stroke="#1b69de" stroke-width="1.9" stroke-linejoin="round"/>
<path d="M145.6 761L159.4 778.7L178.2 754.35L229.3 786.7L267 797.8L331.6 757.1L433.7 766.4L453.8 784.9L487.6 768.3L546.3 783.3" fill="none" stroke="#30a967" stroke-width="1.9" stroke-linejoin="round"/>
<path d="M145.6 768.4L159.4 767L178.2 753.4L229.3 765.5L267 756.9L331.6 763.2L433.7 757.1L453.8 737.6L487.6 761.3L546.3 760.9" fill="none" stroke="#b473de" stroke-width="1.9" stroke-linejoin="round"/>
<rect x="139.6" y="760" width="12" height="11" fill="#515151"/>
<rect x="153.4" y="769.1" width="12" height="11" fill="#515151"/>
<rect x="223.3" y="797.5" width="12" height="11" fill="#515151"/>
<rect x="261" y="775" width="12" height="11" fill="#515151"/>
<rect x="325.6" y="782.9" width="12" height="11" fill="#515151"/>
<rect x="427.7" y="777.5" width="12" height="11" fill="#515151"/>
<rect x="447.8" y="698" width="12" height="11" fill="#515151"/>
<rect x="481.6" y="783.7" width="12" height="11" fill="#515151"/>
<rect x="540.3" y="780.5" width="12" height="11" fill="#515151"/>
<ellipse cx="145.6" cy="709.2" rx="6.55" ry="5.95" fill="#f43f3f"/>
<ellipse cx="159.4" cy="714.6" rx="6.55" ry="5.95" fill="#f43f3f"/>
<ellipse cx="178.2" cy="710.5" rx="6.55" ry="5.95" fill="#f43f3f"/>
<ellipse cx="229.3" cy="797.9" rx="6.55" ry="5.95" fill="#f43f3f"/>
<ellipse cx="267" cy="800.4" rx="6.55" ry="5.95" fill="#f43f3f"/>
<ellipse cx="331.6" cy="751.7" rx="6.55" ry="5.95" fill="#f43f3f"/>
<ellipse cx="433.7" cy="782.5" rx="6.55" ry="5.95" fill="#f43f3f"/>
<ellipse cx="453.8" cy="758" rx="6.55" ry="5.95" fill="#f43f3f"/>
<ellipse cx="487.6" cy="795.1" rx="6.55" ry="5.95" fill="#f43f3f"/>
<ellipse cx="546.3" cy="746.6" rx="6.55" ry="5.95" fill="#f43f3f"/>
<path d="M145.6 730L153.6 742L137.6 742Z" fill="#1b69de"/>
<path d="M159.4 725L167.4 737L151.4 737Z" fill="#1b69de"/>
<path d="M178.2 703.5L186.2 715.5L170.2 715.5Z" fill="#1b69de"/>
<path d="M229.3 741L237.3 753L221.3 753Z" fill="#1b69de"/>
<path d="M267 698L275 710L259 710Z" fill="#1b69de"/>
<path d="M331.6 717.2L339.6 729.2L323.6 729.2Z" fill="#1b69de"/>
<path d="M433.7 722.6L441.7 734.6L425.7 734.6Z" fill="#1b69de"/>
<path d="M453.8 686.1L461.8 698.1L445.8 698.1Z" fill="#1b69de"/>
<path d="M487.6 709L495.6 721L479.6 721Z" fill="#1b69de"/>
<path d="M546.3 695.8L554.3 707.8L538.3 707.8Z" fill="#1b69de"/>
<path d="M145.6 769L153.6 757L137.6 757Z" fill="#30a967"/>
<path d="M159.4 786.7L167.4 774.7L151.4 774.7Z" fill="#30a967"/>
<path d="M178.2 762.35L186.2 750.35L170.2 750.35Z" fill="#30a967"/>
<path d="M229.3 794.7L237.3 782.7L221.3 782.7Z" fill="#30a967"/>
<path d="M267 805.8L275 793.8L259 793.8Z" fill="#30a967"/>
<path d="M331.6 765.1L339.6 753.1L323.6 753.1Z" fill="#30a967"/>
<path d="M433.7 774.4L441.7 762.4L425.7 762.4Z" fill="#30a967"/>
<path d="M453.8 792.9L461.8 780.9L445.8 780.9Z" fill="#30a967"/>
<path d="M487.6 776.3L495.6 764.3L479.6 764.3Z" fill="#30a967"/>
<path d="M546.3 791.3L554.3 779.3L538.3 779.3Z" fill="#30a967"/>
<path d="M145.6 760.9L154 768.4L145.6 775.9L137.2 768.4Z" fill="#b473de"/>
<path d="M159.4 759.5L167.8 767L159.4 774.5L151 767Z" fill="#b473de"/>
<path d="M178.2 745.9L186.6 753.4L178.2 760.9L169.8 753.4Z" fill="#b473de"/>
<path d="M229.3 758L237.7 765.5L229.3 773L220.9 765.5Z" fill="#b473de"/>
<path d="M267 749.4L275.4 756.9L267 764.4L258.6 756.9Z" fill="#b473de"/>
<path d="M331.6 755.7L340 763.2L331.6 770.7L323.2 763.2Z" fill="#b473de"/>
<path d="M433.7 749.6L442.1 757.1L433.7 764.6L425.3 757.1Z" fill="#b473de"/>
<path d="M453.8 730.1L462.2 737.6L453.8 745.1L445.4 737.6Z" fill="#b473de"/>
<path d="M487.6 753.8L496 761.3L487.6 768.8L479.2 761.3Z" fill="#b473de"/>
<path d="M546.3 753.4L554.7 760.9L546.3 768.4L537.9 760.9Z" fill="#b473de"/>
<path d="M145.6 760V731.2M145.6 771V799.8M159.4 769.1V759.3M159.4 780.1V789.8M331.6 782.9V776.8M331.6 793.9V800M433.7 777.5V755.4M433.7 788.5V810.5M487.6 783.7V774.1M487.6 794.7V804.3" fill="none" stroke="#515151" stroke-width="1.85"/>
<path d="M141.7 731.2H149.5M141.7 799.8H149.5M155.5 759.3H163.3M155.5 789.8H163.3M327.7 776.8H335.5M327.7 800H335.5M429.8 755.4H437.6M429.8 810.5H437.6M483.7 774.1H491.5M483.7 804.3H491.5" fill="none" stroke="#515151" stroke-width="1.5"/>
<path d="M145.6 703.25V637.5M145.6 715.15V781.6M159.4 708.65V665.2M159.4 720.55V765.5M178.2 704.55V600M178.2 716.45V821.4M267 794.45V794.1M267 806.35V806.6M331.6 745.75V699.3M331.6 757.65V804M433.7 776.55V744.1M433.7 788.45V821M453.8 752.05V702M453.8 763.95V814.7M487.6 789.15V776.6M487.6 801.05V813.6M546.3 740.65V703.2M546.3 752.55V790.1" fill="none" stroke="#f43f3f" stroke-width="1.85"/>
<path d="M141.7 637.5H149.5M141.7 781.6H149.5M155.5 665.2H163.3M155.5 765.5H163.3M174.3 600H182.1M174.3 821.4H182.1M263.1 794.1H270.9M263.1 806.6H270.9M327.7 699.3H335.5M327.7 804H335.5M429.8 744.1H437.6M429.8 821H437.6M449.9 702H457.7M449.9 814.7H457.7M483.7 776.6H491.5M483.7 813.6H491.5M542.4 703.2H550.2M542.4 790.1H550.2" fill="none" stroke="#f43f3f" stroke-width="1.5"/>
<path d="M145.6 730V675.6M145.6 742V800.4M159.4 725V669.7M159.4 737V796.6M178.2 703.5V662.8M178.2 715.5V759.5M229.3 741V681.2M229.3 753V817.5M267 698V690.5M267 710V721.5M331.6 717.2V678.1M331.6 729.2V772.3M433.7 722.6V693.2M433.7 734.6V768.1M453.8 686.1V592.9M453.8 698.1V795.3M487.6 709V660.2M487.6 721V773.9M546.3 695.8V646.9M546.3 707.8V760.7" fill="none" stroke="#1b69de" stroke-width="1.85"/>
<path d="M141.7 675.6H149.5M141.7 800.4H149.5M155.5 669.7H163.3M155.5 796.6H163.3M174.3 662.8H182.1M174.3 759.5H182.1M225.4 681.2H233.2M225.4 817.5H233.2M263.1 690.5H270.9M263.1 721.5H270.9M327.7 678.1H335.5M327.7 772.3H335.5M429.8 693.2H437.6M429.8 768.1H437.6M449.9 592.9H457.7M449.9 795.3H457.7M483.7 660.2H491.5M483.7 773.9H491.5M542.4 646.9H550.2M542.4 760.7H550.2" fill="none" stroke="#1b69de" stroke-width="1.5"/>
<path d="M145.6 757V731.2M145.6 769V790.7M159.4 774.7V763M159.4 786.7V794.4M178.2 750.35V709.5M178.2 762.35V799.2M229.3 782.7V758.5M229.3 794.7V814.9M267 793.8V789M331.6 753.1V710.7M331.6 765.1V803.5M433.7 762.4V734.2M433.7 774.4V798.6M453.8 780.9V769.5M453.8 792.9V800.3M487.6 764.3V732.2M487.6 776.3V804.3M546.3 779.3V761.6M546.3 791.3V805" fill="none" stroke="#30a967" stroke-width="1.85"/>
<path d="M141.7 731.2H149.5M141.7 790.7H149.5M155.5 763H163.3M155.5 794.4H163.3M174.3 709.5H182.1M174.3 799.2H182.1M225.4 758.5H233.2M225.4 814.9H233.2M263.1 789H270.9M263.1 805H270.9M327.7 710.7H335.5M327.7 803.5H335.5M429.8 734.2H437.6M429.8 798.6H437.6M449.9 769.5H457.7M449.9 800.3H457.7M483.7 732.2H491.5M483.7 804.3H491.5M542.4 761.6H550.2M542.4 805H550.2" fill="none" stroke="#30a967" stroke-width="1.5"/>
<path d="M145.6 760.9V736.4M145.6 775.9V800.4M159.4 759.5V740.1M159.4 774.5V793.9M178.2 745.9V722.1M178.2 760.9V784.8M229.3 758V716.7M229.3 773V814.4M267 749.4V727.8M267 764.4V785.9M331.6 755.7V738.4M331.6 770.7V788M433.7 749.6V730.8M433.7 764.6V783.4M453.8 730.1V671.8M453.8 745.1V803.4M487.6 753.8V730.8M487.6 768.8V792.1M546.3 753.4V727.8M546.3 768.4V794.1" fill="none" stroke="#b473de" stroke-width="1.85"/>
<path d="M141.7 736.4H149.5M141.7 800.4H149.5M155.5 740.1H163.3M155.5 793.9H163.3M174.3 722.1H182.1M174.3 784.8H182.1M225.4 716.7H233.2M225.4 814.4H233.2M263.1 727.8H270.9M263.1 785.9H270.9M327.7 738.4H335.5M327.7 788H335.5M429.8 730.8H437.6M429.8 783.4H437.6M449.9 671.8H457.7M449.9 803.4H457.7M483.7 730.8H491.5M483.7 792.1H491.5M542.4 727.8H550.2M542.4 794.1H550.2" fill="none" stroke="#b473de" stroke-width="1.5"/>
</g>
<path d="M145.6 621.3L159.4 621.3L178.2 635.8L229.3 648.2L267 651L331.6 653L433.7 665.8L453.8 666.3L487.6 674L546.3 683.6" fill="none" stroke="#12ee12" stroke-width="2.05" stroke-linejoin="round"/>
<circle cx="145.6" cy="621.3" r="6.4" fill="#fff" stroke="#4fea4f" stroke-width="1.05"/>
<circle cx="159.4" cy="621.3" r="6.4" fill="#fff" stroke="#4fea4f" stroke-width="1.05"/>
<circle cx="178.2" cy="635.8" r="6.4" fill="#fff" stroke="#4fea4f" stroke-width="1.05"/>
<circle cx="229.3" cy="648.2" r="6.4" fill="#fff" stroke="#4fea4f" stroke-width="1.05"/>
<circle cx="267" cy="651" r="6.4" fill="#fff" stroke="#4fea4f" stroke-width="1.05"/>
<circle cx="331.6" cy="653" r="6.4" fill="#fff" stroke="#4fea4f" stroke-width="1.05"/>
<circle cx="433.7" cy="665.8" r="6.4" fill="#fff" stroke="#4fea4f" stroke-width="1.05"/>
<circle cx="453.8" cy="666.3" r="6.4" fill="#fff" stroke="#4fea4f" stroke-width="1.05"/>
<circle cx="487.6" cy="674" r="6.4" fill="#fff" stroke="#4fea4f" stroke-width="1.05"/>
<circle cx="546.3" cy="683.6" r="6.4" fill="#fff" stroke="#4fea4f" stroke-width="1.05"/>
<text x="189.3" y="877.6" font-size="21.2" text-anchor="start">Distance along the Yellow River/Km</text>
</svg>
</body></html>
